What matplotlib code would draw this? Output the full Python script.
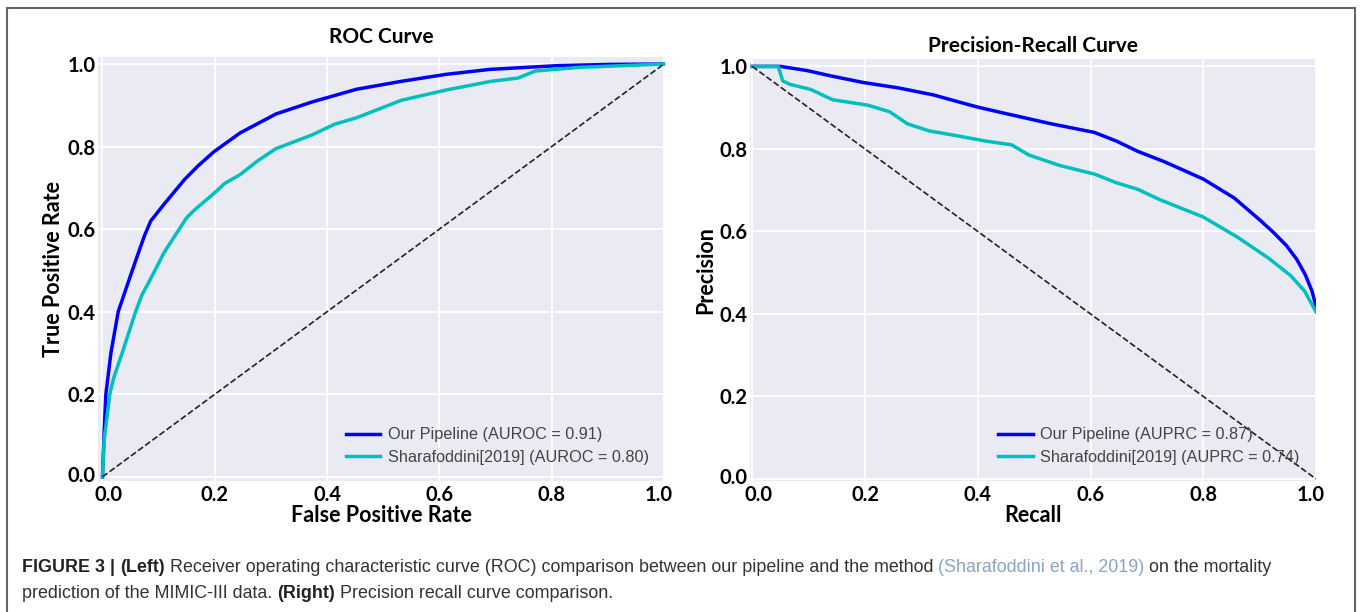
import numpy as np
import matplotlib
matplotlib.use('Agg')
import matplotlib.pyplot as plt
import matplotlib.transforms as mtransforms
from matplotlib.lines import Line2D

# ROC curve values
roc_fpr_ours = [0, 0.003, 0.006, 0.015, 0.028, 0.048, 0.062, 0.075, 0.086, 0.11, 0.146, 0.17,
                0.198, 0.245, 0.309, 0.373, 0.453, 0.532, 0.612, 0.69, 0.81, 0.9, 1.0]
roc_tpr_ours = [0, 0.11, 0.2, 0.3, 0.4, 0.48, 0.535, 0.585, 0.62, 0.661, 0.72, 0.753,
                0.787, 0.833, 0.879, 0.908, 0.939, 0.958, 0.975, 0.987, 0.996, 0.999, 1.0]

roc_fpr_shara = [0, 0.003, 0.013, 0.02, 0.035, 0.059, 0.07, 0.082, 0.11, 0.15, 0.166, 0.198,
                 0.218, 0.245, 0.277, 0.309, 0.373, 0.413, 0.453, 0.532, 0.612, 0.692,
                 0.74, 0.771, 0.851, 1.0]
roc_tpr_shara = [0, 0.09, 0.2, 0.24, 0.3, 0.4, 0.44, 0.47, 0.544, 0.628, 0.649, 0.686,
                 0.711, 0.732, 0.766, 0.795, 0.828, 0.854, 0.87, 0.912, 0.937, 0.958,
                 0.966, 0.983, 0.992, 1.0]

# Precision-recall values
pr_rec_ours = [0, 0.05, 0.097, 0.143, 0.197, 0.259, 0.321, 0.398, 0.452, 0.53, 0.607,
               0.646, 0.684, 0.731, 0.8, 0.855, 0.901, 0.925, 0.948, 0.966, 0.981, 0.993, 1.0]
pr_prec_ours = [1.0, 1.0, 0.99, 0.976, 0.961, 0.948, 0.931, 0.902, 0.885, 0.861, 0.84,
                0.819, 0.794, 0.769, 0.727, 0.681, 0.627, 0.597, 0.565, 0.532, 0.495, 0.455, 0.418]

pr_rec_shara = [0, 0.046, 0.054, 0.066, 0.104, 0.143, 0.182, 0.205, 0.244, 0.275, 0.313,
                0.367, 0.414, 0.46, 0.491, 0.545, 0.607, 0.646, 0.684, 0.723, 0.8,
                0.862, 0.916, 0.955, 0.98, 1.0]
pr_prec_shara = [1.0, 1.0, 0.965, 0.957, 0.944, 0.919, 0.911, 0.906, 0.89, 0.861, 0.844,
                 0.831, 0.819, 0.81, 0.785, 0.76, 0.739, 0.718, 0.702, 0.677, 0.635,
                 0.585, 0.535, 0.493, 0.455, 0.405]

ticks = [0.0, 0.2, 0.4, 0.6, 0.8, 1.0]
tick_labels = ['0.0', '0.2', '0.4', '0.6', '0.8', '1.0']

W, H = 1360, 612
fig = plt.figure(figsize=(W / 100, H / 100), dpi=100)
fig.patch.set_facecolor('white')

bold_font = ['Lato', 'DejaVu Sans']
legend_font = ['Liberation Sans', 'DejaVu Sans']


def px_box(x0, y0, x1, y1):
    return [x0 / W, 1 - y1 / H, (x1 - x0) / W, (y1 - y0) / H]


def nudge(label, dx, dy):
    # shift a tick label by a few pixels, as in the original figure
    off = mtransforms.ScaledTranslation(dx / 100, dy / 100, fig.dpi_scale_trans)
    label.set_transform(label.get_transform() + off)


def style_axes(ax, title, xlabel, ylabel, title_pad):
    ax.set_facecolor('#eaeaf2')
    for s in ax.spines.values():
        s.set_visible(False)
    ax.grid(True, color='white', linewidth=1.3)
    ax.set_axisbelow(True)
    ax.set_xticks(ticks)
    ax.set_yticks(ticks)
    ax.set_xticklabels(tick_labels, family=bold_font, fontweight='bold', fontsize=14.5)
    ax.set_yticklabels(tick_labels, family=bold_font, fontweight='bold', fontsize=14.5)
    ax.tick_params(length=0, pad=2)
    ax.tick_params(axis='x', pad=3)
    xl = ax.get_xticklabels()
    nudge(xl[0], 6, 0)
    nudge(xl[-1], -5, 0)
    nudge(ax.get_yticklabels()[0], 0, 3)
    ax.set_title(title, family=bold_font, fontweight='bold', fontsize=15, pad=title_pad)
    ax.set_xlabel(xlabel, family=bold_font, fontweight='bold', fontsize=15.5, labelpad=0)
    ax.set_ylabel(ylabel, family=bold_font, fontweight='bold', fontsize=15.5, labelpad=2)


def add_legend(ax):
    leg = ax.legend(loc='lower right', frameon=False,
                    prop={'family': legend_font, 'size': 11.7},
                    handlelength=2.15, handletextpad=0.45,
                    borderaxespad=0.6, labelspacing=0.45)
    for t in leg.get_texts():
        t.set_color('#444444')
    return leg


# left: ROC
ax1 = fig.add_axes(px_box(98, 57, 665, 481))
ax1.plot(roc_fpr_ours, roc_tpr_ours, color='#0000ff', lw=2.5,
         label='Our Pipeline (AUROC = 0.91)')
ax1.plot(roc_fpr_shara, roc_tpr_shara, color='#00bfbf', lw=2.5,
         label='Sharafoddini[2019] (AUROC = 0.80)')
ax1.plot([0, 1], [0, 1], '--', color='#222222', lw=1.2)
ax1.set_xlim(-0.008, 1.002)
ax1.set_ylim(-0.01, 1.017)
style_axes(ax1, 'ROC Curve', 'False Positive Rate', 'True Positive Rate', 10)
add_legend(ax1)

# right: precision-recall
ax2 = fig.add_axes(px_box(750, 59, 1316, 481))
ax2.plot(pr_rec_ours, pr_prec_ours, color='#0000ff', lw=2.5,
         label='Our Pipeline (AUPRC = 0.87)')
ax2.plot(pr_rec_shara, pr_prec_shara, color='#00bfbf', lw=2.5,
         label='Sharafoddini[2019] (AUPRC = 0.74)')
ax2.plot([0, 1], [1, 0], '--', color='#222222', lw=1.2)
ax2.set_xlim(-0.004, 1.0)
ax2.set_ylim(-0.005, 1.018)
style_axes(ax2, 'Precision-Recall Curve', 'Recall', 'Precision', 5)
add_legend(ax2)

# frame around the figure panel
border = dict(color='#666666', lw=1.5, transform=fig.transFigure)
fig.add_artist(Line2D([7 / W, 7 / W], [0, 1 - 8 / H], **border))
fig.add_artist(Line2D([7 / W, 1355 / W], [1 - 8 / H, 1 - 8 / H], **border))
fig.add_artist(Line2D([1355 / W, 1355 / W], [0, 1 - 8 / H], **border))

# caption, drawn piece by piece so bold / link parts can differ
cap_size = 12.9
normal = dict(color='#333333', fontweight='normal')
bold = dict(color='#222222', fontweight='bold')
link = dict(color='#8aa4c4', fontweight='normal')
caption_lines = [
    [('FIGURE 3 | ', bold), ('(Left)', bold),
     (' Receiver operating characteristic curve (ROC) comparison between our pipeline and the method ', normal),
     ('(Sharafoddini et al., 2019)', link), (' on the mortality', normal)],
    [('prediction of the MIMIC-III data. ', normal), ('(Right)', bold),
     (' Precision recall curve comparison.', normal)],
]
caption_y = [567, 593]

renderer = fig.canvas.get_renderer()


def text_width(s, kw):
    t = fig.text(0, 0, s + '|', fontsize=cap_size, family=legend_font, **kw)
    b = fig.text(0, 0, '|', fontsize=cap_size, family=legend_font, **kw)
    w = t.get_window_extent(renderer).width - b.get_window_extent(renderer).width
    t.remove()
    b.remove()
    return w


for pieces, ypx in zip(caption_lines, caption_y):
    x = 22.0
    for s, kw in pieces:
        fig.text(x / W, 1 - ypx / H, s, fontsize=cap_size, family=legend_font,
                 va='center', ha='left', **kw)
        x += text_width(s, kw)

fig.savefig('out.png', dpi=100, facecolor='white')
